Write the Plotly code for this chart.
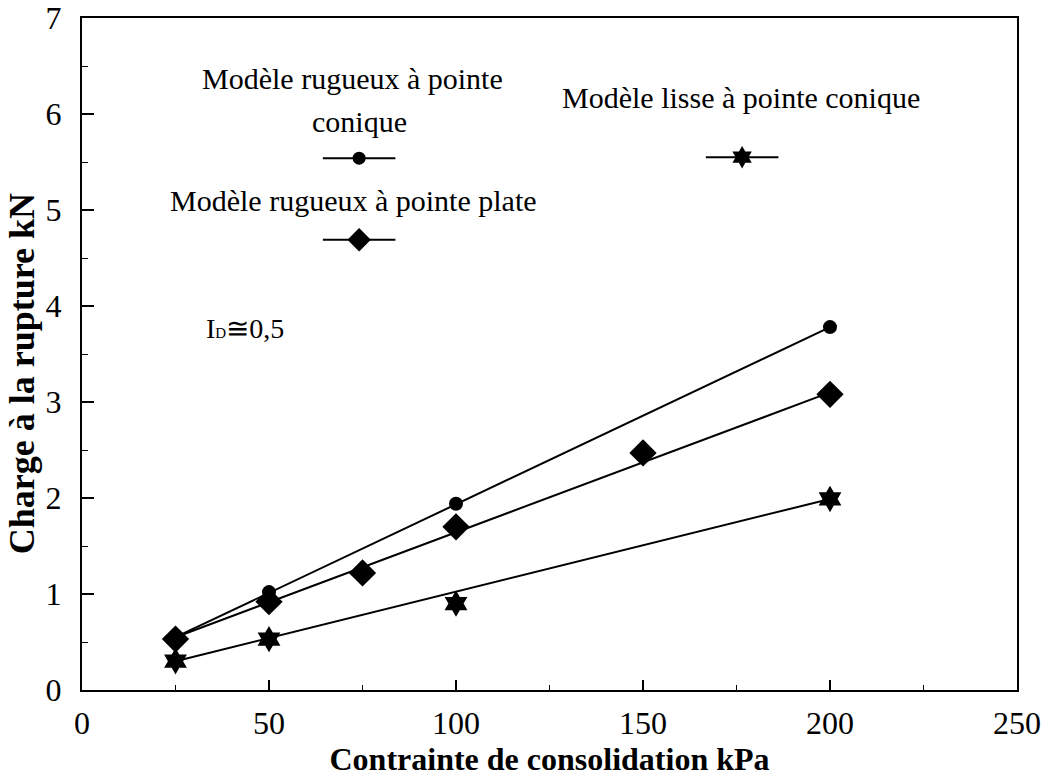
import plotly.graph_objects as go

# ---- data ----
x_circle = [25, 50, 100, 200]
y_circle = [0.55, 1.02, 1.94, 3.78]

x_diamond = [25, 50, 75, 100, 150, 200]
y_diamond = [0.53, 0.92, 1.22, 1.70, 2.47, 3.08]

x_star = [25, 50, 100, 200]
y_star = [0.30, 0.53, 0.90, 1.99]

# straight fitted lines (end points)
fit_x = [25, 200]
fit_circle = [0.55, 3.78]
fit_diamond = [0.55, 3.10]
fit_star = [0.30, 1.99]

name_circle = "Modèle rugueux à pointe conique"
name_diamond = "Modèle rugueux à pointe plate"
name_star = "Modèle lisse à pointe conique"

x_ticks = [0, 50, 100, 150, 200, 250]
y_ticks = [0, 1, 2, 3, 4, 5, 6, 7]

FONT = "Liberation Serif, Times New Roman, serif"
BLACK = "#000000"

fig = go.Figure()

# fitted lines
for fy in (fit_circle, fit_diamond, fit_star):
    fig.add_trace(go.Scatter(x=fit_x, y=fy, mode="lines",
                             line=dict(color=BLACK, width=2),
                             showlegend=False, hoverinfo="skip"))

# markers
fig.add_trace(go.Scatter(x=x_circle, y=y_circle, mode="markers", name=name_circle,
                         marker=dict(symbol="circle", size=14, color=BLACK),
                         showlegend=False))
fig.add_trace(go.Scatter(x=x_star, y=y_star, mode="markers", name=name_star,
                         marker=dict(symbol="hexagram", size=20, color=BLACK),
                         showlegend=False))
fig.add_trace(go.Scatter(x=x_diamond, y=y_diamond, mode="markers", name=name_diamond,
                         marker=dict(symbol="diamond", size=21, color=BLACK),
                         showlegend=False))

# hand-drawn style legend samples (line + marker)
legend_items = [
    (74.1, 5.54, "circle", 13),
    (74.1, 4.69, "diamond", 18),
    (176.5, 5.55, "hexagram", 17),
]
for cx, cy, sym, sz in legend_items:
    fig.add_trace(go.Scatter(x=[cx - 9.7, cx + 9.7], y=[cy, cy], mode="lines",
                             line=dict(color=BLACK, width=2),
                             showlegend=False, hoverinfo="skip"))
    fig.add_trace(go.Scatter(x=[cx], y=[cy], mode="markers",
                             marker=dict(symbol=sym, size=sz, color=BLACK),
                             showlegend=False, hoverinfo="skip"))

legend_texts = [
    (72.2, 6.37, "Modèle rugueux à pointe"),
    (74.1, 5.92, "conique"),
    (72.5, 5.10, name_diamond),
    (176.2, 6.17, name_star),
]
for tx, ty, txt in legend_texts:
    fig.add_annotation(x=tx, y=ty, text=txt, showarrow=False,
                       xanchor="center", yanchor="middle",
                       font=dict(family=FONT, size=30, color=BLACK))

fig.add_annotation(x=32.5, y=3.77,
                   text="I<span style='font-size:15px'>D</span>≅0,5",
                   showarrow=False, xanchor="left", yanchor="middle",
                   font=dict(family=FONT, size=28, color=BLACK))

# y axis title (placed as rotated annotation to match the reference position)
fig.add_annotation(xref="paper", yref="paper", x=-0.064, y=0.47,
                   text="<b>Charge à la rupture kN</b>", textangle=-90,
                   showarrow=False, xanchor="center", yanchor="middle",
                   font=dict(family=FONT, size=36, color=BLACK))

axis_common = dict(
    showgrid=False, zeroline=False,
    showline=True, linecolor=BLACK, linewidth=2, mirror=True,
    ticks="inside", tickcolor=BLACK, tickwidth=1.5,
    tickfont=dict(family=FONT, size=32, color=BLACK),
    ticklabeloverflow="allow",
)

fig.update_xaxes(
    range=[0, 250], tickvals=x_ticks, ticklen=10,
    minor=dict(dtick=25, ticks="inside", ticklen=5, tickcolor=BLACK, tickwidth=1),
    title=dict(text="<b>Contrainte de consolidation kPa</b>",
               font=dict(family=FONT, size=32, color=BLACK), standoff=4),
    ticklabelstandoff=4,
    **axis_common,
)
fig.update_yaxes(
    range=[0, 7], tickvals=y_ticks, ticklen=12,
    minor=dict(dtick=0.5, ticks="inside", ticklen=6, tickcolor=BLACK, tickwidth=1),
    ticklabelstandoff=12,
    **axis_common,
)

fig.update_layout(
    width=1044, height=780,
    margin=dict(l=82, r=27, t=18, b=90, autoexpand=False),
    paper_bgcolor="white", plot_bgcolor="white",
    font=dict(family=FONT, color=BLACK),
    showlegend=False,
)

# remove the default page margin so the figure fills the window exactly
fig.write_html("out.html",
               config={"displayModeBar": False},
               post_script="document.body.style.margin='0';document.body.style.overflow='hidden';")
